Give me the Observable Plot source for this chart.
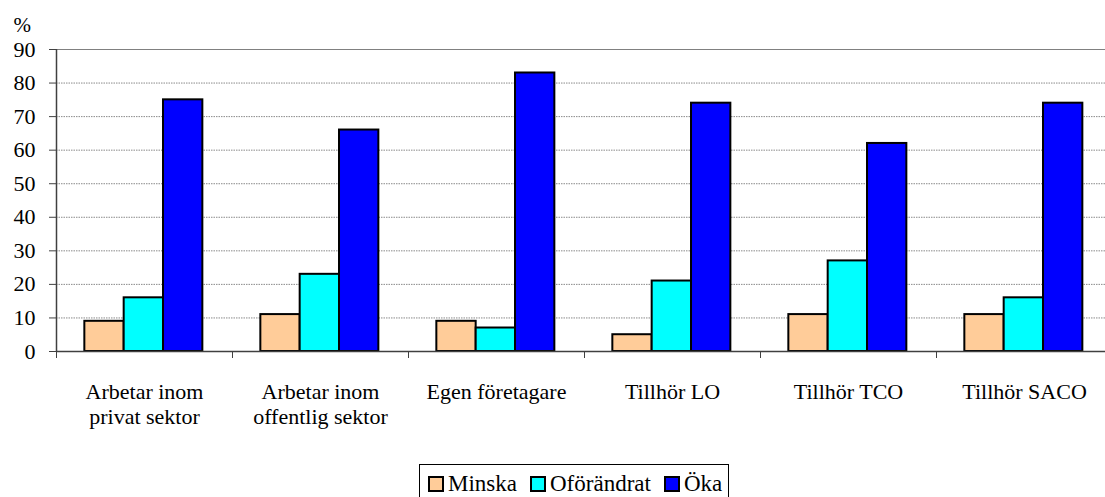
<!DOCTYPE html>
<html>
<head>
<meta charset="utf-8">
<script src="https://cdn.jsdelivr.net/npm/d3@7"></script>
<script src="https://cdn.jsdelivr.net/npm/@observablehq/plot@0.6"></script>
<style>
  html, body { margin: 0; padding: 0; background: #fff; overflow: hidden; }
  #wrap { position: relative; width: 1105px; height: 497px; font-family: 'Liberation Serif', serif; }
  #legend { position: absolute; left: 419px; top: 464px; height: 38px; border: 1px solid #000; display: flex; align-items: center; padding: 0 6px 0 8px; font-size: 23px; color: #000; background: #fff; font-family: 'Liberation Serif', serif; }
  .item { display: flex; align-items: center; margin-right: 13px; }
  .item:last-child { margin-right: 0; }
  .sw { width: 16px; height: 16px; box-sizing: border-box; border: 2px solid #000; margin-right: 4px; }
</style>
</head>
<body>
<div id="wrap"><div id="chart"></div><div id="legend"></div></div>
<script>
const categories = [
  "Arbetar inom\nprivat sektor",
  "Arbetar inom\noffentlig sektor",
  "Egen företagare",
  "Tillhör LO",
  "Tillhör TCO",
  "Tillhör SACO"
];
const seriesNames = ["Minska", "Oförändrat", "Öka"];
const minska     = [9, 11, 9, 5, 11, 11];
const oforandrat = [16, 23, 7, 21, 27, 16];
const oka        = [75, 66, 83, 74, 62, 74];
const yTicks = [0, 10, 20, 30, 40, 50, 60, 70, 80, 90];
const colors = ["#FFCC99", "#00FFFF", "#0000FF"];

// layout of bars inside each category band (fractions of the band)
const groupStart = 0.161;
const barFrac = 0.2235;

const seriesValues = [minska, oforandrat, oka];
const rows = [];
categories.forEach((c, ci) => {
  seriesValues.forEach((vals, si) => {
    const x1 = ci + groupStart + si * barFrac;
    rows.push({category: c, series: seriesNames[si], value: vals[ci], x1, x2: x1 + barFrac});
  });
});

const font = "'Liberation Serif', serif";

const plot = Plot.plot({
  width: 1105,
  height: 460,
  marginLeft: 56,
  marginRight: 0,
  marginTop: 49,
  marginBottom: 109,
  style: {fontFamily: font, fontSize: "22px", color: "#000", background: "#fff", overflow: "visible"},
  x: {type: "linear", domain: [0, categories.length], range: [56, 1112]},
  y: {domain: [0, 90], range: [351, 49]},
  color: {domain: seriesNames, range: colors},
  marks: [
    Plot.ruleY(yTicks.filter(t => t > 0 && t < 90), {stroke: "#8a8a8a", strokeDasharray: "1.5,1", strokeWidth: 1}),
    Plot.ruleY([90], {stroke: "#808080", strokeWidth: 1.2}),
    Plot.rectY(rows, {x1: "x1", x2: "x2", y: "value", fill: "series", stroke: "#000", strokeWidth: 2}),
    Plot.ruleY([0], {stroke: "#404040", strokeWidth: 1.5}),
    Plot.ruleX([0], {stroke: "#404040", strokeWidth: 1.5}),
    Plot.axisY({ticks: yTicks, tickSize: 7, tickPadding: 14, label: null, stroke: "#404040", fontSize: 22, fontFamily: font}),
    Plot.axisX({ticks: d3.range(categories.length), tickSize: 7, tickFormat: () => "", label: null, stroke: "#404040"}),
    Plot.axisX({ticks: d3.range(categories.length).map(i => i + 0.5), tickSize: 0, tickPadding: 30,
      tickFormat: d => categories[Math.floor(d)], label: null, fontSize: 22, lineHeight: 1.12, fontFamily: font}),
    Plot.text(["%"], {text: d => d, frameAnchor: "top-left", textAnchor: "start", dx: -43, dy: -32, fontSize: 21, fontFamily: font})
  ]
});
document.getElementById("chart").appendChild(plot);

const legend = document.getElementById("legend");
seriesNames.forEach((s, i) => {
  const item = document.createElement("div");
  item.className = "item";
  const sw = document.createElement("div");
  sw.className = "sw";
  sw.style.background = colors[i];
  const t = document.createElement("span");
  t.textContent = s;
  item.appendChild(sw);
  item.appendChild(t);
  legend.appendChild(item);
});
</script>
</body>
</html>
